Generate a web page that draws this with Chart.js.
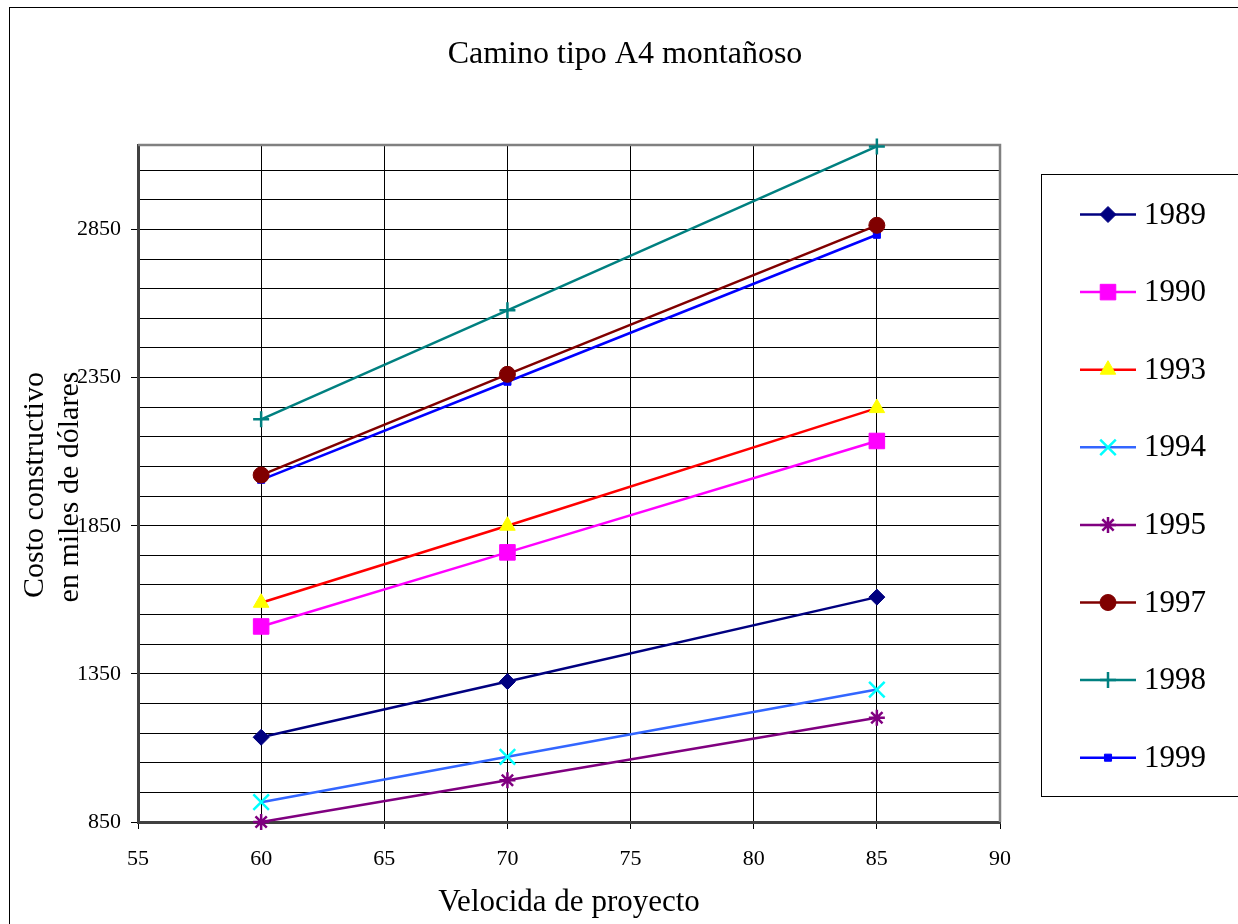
<!DOCTYPE html>
<html><head><meta charset="utf-8">
<script src="https://cdn.jsdelivr.net/npm/chart.js@4/dist/chart.umd.min.js"></script>
<style>html,body{margin:0;padding:0;background:#fff}#wrap{position:relative;width:1238px;height:924px}</style>
</head><body><div id="wrap"><canvas id="c"></canvas></div>
<script>
// ---- data ----
const chartTitle = 'Camino tipo A4 montañoso';
const xTitle = 'Velocida de proyecto';
const yTitleLines = ['Costo constructivo', 'en miles de dólares'];
const speeds = [60, 70, 85];
const years = ['1989', '1990', '1993', '1994', '1995', '1997', '1998', '1999'];
const c1989 = [1136, 1324, 1609];
const c1990 = [1510, 1760, 2136];
const c1993 = [1590, 1850, 2247];
const c1994 = [917, 1070, 1297];
const c1995 = [850, 991, 1202];
const c1997 = [2021, 2361, 2864];
const c1998 = [2209, 2577, 3130];
const c1999 = [2005, 2336, 2832];
const yTickLabels = [850, 1350, 1850, 2350, 2850];
const xTickLabels = [55, 60, 65, 70, 75, 80, 85, 90];

// ---- styles ----
const FONT = "'Liberation Serif', 'Times New Roman', serif";
const styles = [
  {line:'#000080', fill:'#000080', stroke:'#000080', ps:'rectRot', r:8, bw:1},
  {line:'#FF00FF', fill:'#FF00FF', stroke:'#FF00FF', ps:'rect', r:11, bw:1},
  {line:'#FF0000', fill:'#FFFF00', stroke:'#FFFF00', ps:'triangle', r:9, bw:1},
  {line:'#3366FF', fill:'#00FFFF', stroke:'#00FFFF', ps:'crossRot', r:11, bw:2.5},
  {line:'#800080', fill:'#800080', stroke:'#800080', ps:'star', r:8, bw:2.5},
  {line:'#800000', fill:'#800000', stroke:'#800000', ps:'circle', r:8, bw:1},
  {line:'#008080', fill:'#008080', stroke:'#008080', ps:'cross', r:8, bw:2.5},
  {line:'#0000FF', fill:'#0000FF', stroke:'#0000FF', ps:'rect', r:5, bw:1}
];
const series = [c1989, c1990, c1993, c1994, c1995, c1997, c1998, c1999];
const Y_MIN = 850, Y_MAX = 3135, Y_MINOR = 100;

const datasets = series.map((vals, i) => ({
  label: years[i],
  data: speeds.map((x, j) => ({x: x, y: vals[j]})),
  borderColor: styles[i].line,
  borderWidth: 2.5,
  backgroundColor: styles[i].fill,
  pointBackgroundColor: styles[i].fill,
  pointBorderColor: styles[i].stroke,
  pointBorderWidth: styles[i].bw,
  pointStyle: styles[i].ps,
  pointRadius: styles[i].r,
  pointHoverRadius: styles[i].r,
  tension: 0,
  clip: false
}));

function drawMarker(ctx, s, x, y) {
  ctx.save();
  ctx.fillStyle = s.fill; ctx.strokeStyle = s.stroke; ctx.lineWidth = s.bw;
  if (Chart.helpers && Chart.helpers.drawPoint) {
    Chart.helpers.drawPoint(ctx, {pointStyle: s.ps, radius: s.r, borderWidth: s.bw, rotation: 0}, x, y);
  }
  ctx.restore();
}

const decor = {
  id: 'decor',
  beforeDatasetsDraw(chart) {
    const {ctx, chartArea: a} = chart;
    ctx.save();
    ctx.strokeStyle = '#808080'; ctx.lineWidth = 2.5;
    ctx.beginPath();
    ctx.moveTo(a.left, a.top); ctx.lineTo(a.right, a.top); ctx.lineTo(a.right, a.bottom);
    ctx.stroke();
    ctx.restore();
  },
  afterDraw(chart) {
    const {ctx} = chart;
    ctx.save();
    ctx.strokeStyle = '#000'; ctx.lineWidth = 1;
    ctx.strokeRect(9.5, 7.5, 1400, 1000);
    ctx.fillStyle = '#000';
    ctx.font = '32px ' + FONT; ctx.textAlign = 'center'; ctx.textBaseline = 'middle';
    ctx.fillText(chartTitle, 625, 55);
    ctx.font = '31px ' + FONT;
    ctx.fillText(xTitle, 569, 903);
    ctx.font = '30px ' + FONT;
    ctx.save();
    ctx.translate(35, 485); ctx.rotate(-Math.PI / 2);
    ctx.fillText(yTitleLines[0], 0, 0);
    ctx.restore();
    ctx.save();
    ctx.translate(70, 487); ctx.rotate(-Math.PI / 2);
    ctx.fillText(yTitleLines[1], 0, 0);
    ctx.restore();
    ctx.strokeStyle = '#000'; ctx.lineWidth = 1;
    ctx.strokeRect(1041.5, 174.5, 400, 622);
    ctx.font = '31px ' + FONT; ctx.textAlign = 'left'; ctx.textBaseline = 'middle';
    years.forEach((yr, i) => {
      const y = 214.5 + i * 77.6;
      const s = styles[i];
      ctx.strokeStyle = s.line; ctx.lineWidth = 2.5;
      ctx.beginPath(); ctx.moveTo(1080, y); ctx.lineTo(1136, y); ctx.stroke();
      drawMarker(ctx, s, 1108, y);
      ctx.fillStyle = '#000';
      ctx.fillText(yr, 1144, y + 1);
    });
    ctx.restore();
  }
};

new Chart(document.getElementById('c'), {
  type: 'line',
  data: {datasets},
  options: {
    responsive: true,
    maintainAspectRatio: false,
    animation: false,
    events: [],
    layout: {padding: {left: 0, top: 145, right: 238, bottom: 0}},
    plugins: {legend: {display: false}, title: {display: false}, tooltip: {enabled: false}},
    scales: {
      x: {
        type: 'linear', min: 55, max: 90,
        afterFit(s) { s.height = 102; },
        afterBuildTicks(s) { s.ticks = xTickLabels.map(v => ({value: v})); },
        ticks: {color: '#000', font: {family: FONT, size: 22}, padding: 17, maxRotation: 0},
        grid: {
          color: c => (c.tick && c.tick.value === 90) ? 'rgba(0,0,0,0)' : '#000',
          lineWidth: 1, tickLength: 7, tickColor: '#000', tickWidth: 1
        },
        border: {display: true, color: '#404040', width: 3}
      },
      y: {
        type: 'linear', min: Y_MIN, max: Y_MAX,
        afterFit(s) { s.width = 138; },
        afterBuildTicks(s) {
          const t = [];
          for (let v = Y_MIN; v < Y_MAX; v += Y_MINOR) t.push({value: v});
          t.push({value: Y_MAX});
          s.ticks = t;
        },
        ticks: {
          color: '#000', font: {family: FONT, size: 22}, padding: 10, autoSkip: false,
          callback: v => yTickLabels.includes(v) ? String(v) : ''
        },
        grid: {
          color: c => (c.tick && c.tick.value >= Y_MAX) ? 'rgba(0,0,0,0)' : '#000',
          lineWidth: 1, tickLength: 7, tickWidth: 1,
          tickColor: c => (c.tick && yTickLabels.includes(c.tick.value)) ? '#000' : 'rgba(0,0,0,0)'
        },
        border: {display: true, color: '#404040', width: 3}
      }
    }
  },
  plugins: [decor]
});
</script>
</body></html>
